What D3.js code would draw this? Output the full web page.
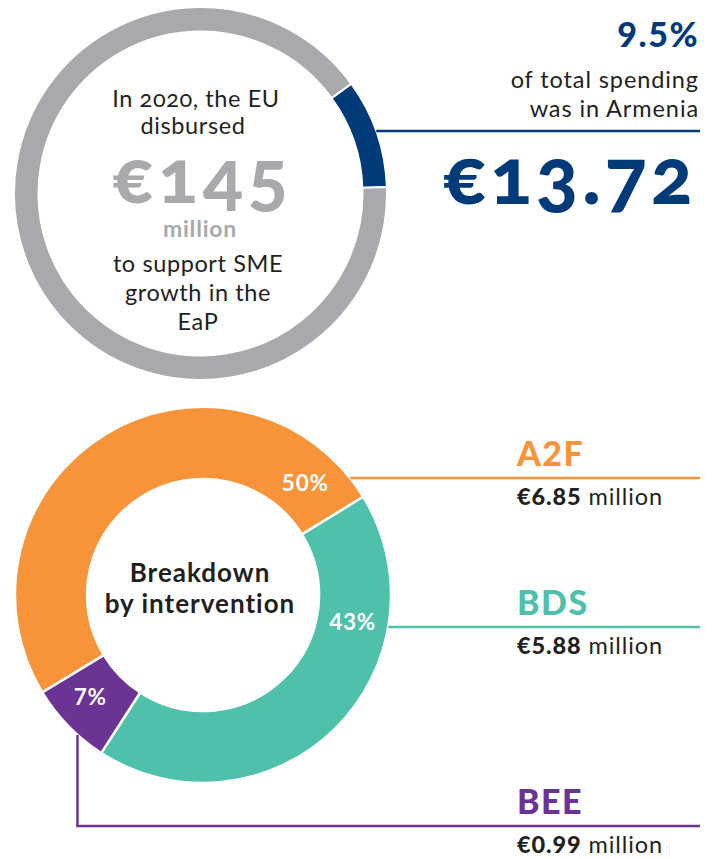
<!DOCTYPE html>
<head>
    <meta charset="utf-8">
    <script src="https://d3js.org/d3.v7.min.js"></script>
    <style>
      body { margin: 0; background: #fff; }
      text { font-family: Lato, "Open Sans", sans-serif; fill: #231f20; }
      .num { font-variant-numeric: oldstyle-nums; }
    </style>
<body>
    <script>
        // data
        var totalCats = ["Armenia", "Other EaP"]
        var totalVals = [13.72, 131.28]
        var totalPct = "9.5%"
        var partCats = ["A2F", "BDS", "BEE"]
        var partVals = [6.85, 5.88, 0.99]
        var partPct = ["50%", "43%", "7%"]

        var svg_w = 717, svg_h = 859
        var svg = d3.select("body").append("svg")
          .attr("width", svg_w)
          .attr("height", svg_h)

        var deg = Math.PI / 180

        // TOP DONUT
        var top_cx = 200.5, top_cy = 193.5, top_ro = 186.5, top_ri = 162
        var topColor = d3.scaleOrdinal().domain(totalCats).range(["#003a78", "#a7a9ac"])
        var topSpan = 360 * totalVals[0] / d3.sum(totalVals)
        var topPie = d3.pie().sort(null).value(function(d){return d})
          .startAngle((88 - topSpan) * deg)
          .endAngle((88 - topSpan + 360) * deg)
        var topArc = d3.arc().innerRadius(top_ri).outerRadius(top_ro)
        var gTop = svg.append("g").attr("transform", "translate(" + top_cx + "," + top_cy + ")")
        gTop.selectAll("path").data(topPie(totalVals)).enter().append("path")
          .attr("d", topArc)
          .attr("fill", function(d, i){return topColor(totalCats[i])})
          .attr("stroke", "#fff")
          .attr("stroke-width", 2)

        // blue leader line
        var ly = 131
        svg.append("line")
          .attr("x1", top_cx + Math.sqrt(top_ro*top_ro - (ly-top_cy)*(ly-top_cy)))
          .attr("x2", 700).attr("y1", ly).attr("y2", ly)
          .attr("stroke", "#003a78").attr("stroke-width", 2.5)

        // centre text
        var tc = svg.append("g").attr("text-anchor", "middle")
        tc.append("text").attr("x", 196).attr("y", 107).attr("font-size", 23.5).attr("letter-spacing", 0.6)
          .attr("class", "num").text("In 2020, the EU")
        tc.append("text").attr("x", 193).attr("y", 134).attr("font-size", 23.5).attr("letter-spacing", 0.6).text("disbursed")
        tc.append("text").attr("x", 203).attr("y", 203).attr("font-size", 74).attr("font-weight", 900)
          .attr("letter-spacing", 5)
          .attr("class", "num").style("fill", "#a7a9ac").text("€" + d3.sum(totalVals))
        tc.append("text").attr("x", 200).attr("y", 237).attr("font-size", 23).attr("font-weight", 700)
          .attr("letter-spacing", 0.8)
          .style("fill", "#a7a9ac").text("million")
        tc.append("text").attr("x", 198).attr("y", 272).attr("font-size", 23.5).attr("letter-spacing", 0.6).text("to support SME")
        tc.append("text").attr("x", 198).attr("y", 301).attr("font-size", 23.5).attr("letter-spacing", 0.6).text("growth in the")
        tc.append("text").attr("x", 198).attr("y", 330).attr("font-size", 23.5).attr("letter-spacing", 0.6).text("EaP")

        // right text
        var tr = svg.append("g").attr("text-anchor", "end")
        tr.append("text").attr("x", 699).attr("y", 47).attr("font-size", 34).attr("font-weight", 900)
          .attr("letter-spacing", 1.5)
          .style("fill", "#003a78").text(totalPct)
        tr.append("text").attr("x", 699).attr("y", 88).attr("font-size", 23.5).attr("letter-spacing", 0.9).text("of total spending")
        tr.append("text").attr("x", 699).attr("y", 117).attr("font-size", 23.5).attr("letter-spacing", 0.9).text("was in Armenia")
        tr.append("text").attr("x", 697).attr("y", 204).attr("font-size", 78).attr("font-weight", 900)
          .attr("letter-spacing", 4)
          .attr("class", "num").style("fill", "#003a78").text("€" + totalVals[0].toFixed(2))

        // BOTTOM DONUT
        var cx = 203, cy = 595, ro = 188, ri = 116
        var partColor = d3.scaleOrdinal().domain(partCats).range(["#f7943a", "#4fc1ab", "#6b3394"])
        var a2fSpan = 360 * partVals[0] / d3.sum(partVals)
        var pie = d3.pie().sort(null).value(function(d){return d})
          .startAngle((58.5 - a2fSpan) * deg)
          .endAngle((58.5 - a2fSpan + 360) * deg)
        var arc = d3.arc().innerRadius(ri).outerRadius(ro)
        var arcs = pie(partVals)
        var g = svg.append("g").attr("transform", "translate(" + cx + "," + cy + ")")
        g.selectAll("path").data(arcs).enter().append("path")
          .attr("d", arc)
          .attr("fill", function(d, i){return partColor(partCats[i])})
          .attr("stroke", "#fff")
          .attr("stroke-width", 2.5)

        // percent labels, placed along each arc
        var labelFrac = [0.91, 0.27, 0.58]
        var rMid = (ri + ro) / 2
        g.selectAll(".pct").data(arcs).enter().append("text")
          .attr("class", "pct")
          .attr("text-anchor", "middle")
          .attr("font-size", 22.5).attr("font-weight", 700).attr("letter-spacing", 0.8)
          .style("fill", "#fff")
          .attr("x", function(d, i){
            var a = d.startAngle + labelFrac[i] * (d.endAngle - d.startAngle)
            return rMid * Math.sin(a)
          })
          .attr("y", function(d, i){
            var a = d.startAngle + labelFrac[i] * (d.endAngle - d.startAngle)
            return -rMid * Math.cos(a) + 8
          })
          .text(function(d, i){return partPct[i]})

        // leader lines
        var lineY = [478, 627, 826]
        function edgeX(y){ return cx + Math.sqrt(ro*ro - (y-cy)*(y-cy)) }
        svg.append("line").attr("x1", edgeX(lineY[0])).attr("x2", 700)
          .attr("y1", lineY[0]).attr("y2", lineY[0])
          .attr("stroke", partColor("A2F")).attr("stroke-width", 2.5)
        svg.append("line").attr("x1", edgeX(lineY[1])).attr("x2", 700)
          .attr("y1", lineY[1]).attr("y2", lineY[1])
          .attr("stroke", partColor("BDS")).attr("stroke-width", 2.5)
        var bee = arcs[2]
        var ba = bee.startAngle + 0.35 * (bee.endAngle - bee.startAngle)
        var bx = cx + ro * Math.sin(ba), by = cy - ro * Math.cos(ba)
        svg.append("polyline")
          .attr("points", [[bx, by], [bx, lineY[2]], [700, lineY[2]]].map(function(p){return p.join(",")}).join(" "))
          .attr("fill", "none")
          .attr("stroke", partColor("BEE")).attr("stroke-width", 2.5)

        // right labels
        var lab = svg.append("g")
        partCats.forEach(function(c, i){
          lab.append("text").attr("x", 517).attr("y", lineY[i] - 12)
            .attr("font-size", 34).attr("font-weight", 900).attr("letter-spacing", 1.5)
            .style("fill", partColor(c)).text(c)
          var t = lab.append("text").attr("x", 517).attr("y", lineY[i] + 27)
            .attr("font-size", 23.5).attr("letter-spacing", 0.9)
          t.append("tspan").attr("font-weight", 900).text("€" + partVals[i].toFixed(2))
          t.append("tspan").text(" million")
        })

        // centre label
        var bc = svg.append("g").attr("text-anchor", "middle").attr("font-weight", 700)
          .attr("font-size", 26).attr("letter-spacing", 1)
        bc.append("text").attr("x", 200).attr("y", 582).text("Breakdown")
        bc.append("text").attr("x", 200).attr("y", 613).text("by intervention")
    </script>
</body>
